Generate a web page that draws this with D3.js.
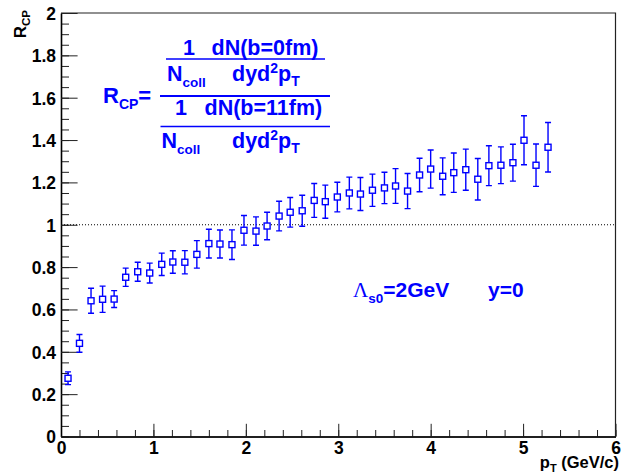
<!DOCTYPE html>
<html>
<head>
<meta charset="utf-8">
<script src="https://cdn.jsdelivr.net/npm/d3@7"></script>
<style>
  body { margin: 0; background: #fff; }
  svg { display: block; font-family: "Liberation Sans", Arial, sans-serif; }
  .tick text { font-weight: bold; font-size: 17.5px; fill: #000; }
</style>
</head>
<body>
<div id="chart"></div>
<script>
// pT bin centres
const pT = [0.076, 0.2, 0.325, 0.45, 0.575, 0.7, 0.83, 0.96, 1.09, 1.21, 1.34, 1.47,
  1.6, 1.72, 1.85, 1.98, 2.11, 2.23, 2.36, 2.48, 2.61, 2.74, 2.86, 2.99, 3.12, 3.24,
  3.37, 3.5, 3.62, 3.75, 3.88, 4.0, 4.13, 4.25, 4.38, 4.51, 4.63, 4.76, 4.89, 5.01,
  5.14, 5.27];
const rcp = [0.275, 0.44, 0.641, 0.648, 0.649, 0.752, 0.778, 0.772, 0.813, 0.824, 0.823, 0.86,
  0.911, 0.909, 0.906, 0.974, 0.97, 0.994, 1.041, 1.059, 1.066, 1.115, 1.109, 1.131, 1.15, 1.145,
  1.163, 1.174, 1.183, 1.159, 1.235, 1.263, 1.229, 1.246, 1.26, 1.215, 1.279, 1.281, 1.293, 1.399,
  1.281, 1.366];
const rcpErr = [0.03, 0.042, 0.059, 0.062, 0.04, 0.043, 0.045, 0.047, 0.053, 0.053, 0.055, 0.065,
  0.068, 0.066, 0.07, 0.07, 0.067, 0.065, 0.07, 0.07, 0.073, 0.08, 0.078, 0.07, 0.075, 0.078,
  0.076, 0.074, 0.082, 0.083, 0.079, 0.09, 0.087, 0.093, 0.097, 0.098, 0.094, 0.087, 0.087, 0.116,
  0.1, 0.117];

const xTicks = [0, 1, 2, 3, 4, 5, 6];
const xTickLabels = ['0', '1', '2', '3', '4', '5', '6'];
const yTicks = [0, 0.2, 0.4, 0.6, 0.8, 1, 1.2, 1.4, 1.6, 1.8, 2];
const yTickLabels = ['0', '0.2', '0.4', '0.6', '0.8', '1', '1.2', '1.4', '1.6', '1.8', '2'];

const width = 621;
const height = 474;
const blue = '#0000ff';

const x = d3.scaleLinear().domain([0, 6]).range([61, 615.5]);
const y = d3.scaleLinear().domain([0, 2]).range([436.5, 13]);

const svg = d3.select('#chart').append('svg').attr('width', width).attr('height', height);

// frame top and right
svg.append('path')
  .attr('d', `M${x(0)},${y(2)}H${x(6)}V${y(0)}`)
  .attr('fill', 'none').attr('stroke', '#222').attr('stroke-width', 1.2);

// minor ticks
svg.append('g').attr('transform', `translate(0,${y(0)})`)
  .call(d3.axisBottom(x).tickValues(d3.range(0, 6.001, 0.2)).tickSizeInner(-6.5).tickSizeOuter(0).tickFormat(''))
  .call((g) => g.selectAll('line').attr('stroke', '#222'));
svg.append('g').attr('transform', `translate(${x(0)},0)`)
  .call(d3.axisLeft(y).tickValues(d3.range(0, 2.001, 0.05)).tickSizeInner(-8).tickSizeOuter(0).tickFormat(''))
  .call((g) => g.selectAll('line').attr('stroke', '#222'));

// major ticks + labels
svg.append('g').attr('transform', `translate(0,${y(0)})`)
  .call(d3.axisBottom(x).tickValues(xTicks).tickSizeInner(-12.7).tickSizeOuter(0)
    .tickPadding(5).tickFormat((d, i) => xTickLabels[i]))
  .call((g) => g.select('.domain').attr('stroke', '#000').attr('stroke-width', 1.6))
  .call((g) => g.selectAll('line').attr('stroke', '#222'))
  .call((g) => g.selectAll('text').attr('font-family', null));
svg.append('g').attr('transform', `translate(${x(0)},0)`)
  .call(d3.axisLeft(y).tickValues(yTicks).tickSizeInner(-16.6).tickSizeOuter(0)
    .tickPadding(5).tickFormat((d, i) => yTickLabels[i]))
  .call((g) => g.select('.domain').attr('stroke', '#000').attr('stroke-width', 1.6))
  .call((g) => g.selectAll('line').attr('stroke', '#222'))
  .call((g) => g.selectAll('text').attr('font-family', null).attr('dy', '0.36em'));

// dotted reference line at 1
svg.append('line')
  .attr('x1', x(0)).attr('x2', x(6)).attr('y1', y(1)).attr('y2', y(1))
  .attr('stroke', '#000').attr('stroke-width', 1).attr('stroke-dasharray', '1,2');

// rich text helper: segments of [text, size, dy, family, weight]
function richText(parent, px, py, segs, opts = {}) {
  const t = parent.append('text').attr('x', px).attr('y', py)
    .attr('fill', opts.fill || blue).attr('font-weight', 'bold')
    .attr('text-anchor', opts.anchor || 'start');
  if (opts.rotate) t.attr('transform', `rotate(${opts.rotate},${px},${py})`);
  segs.forEach(([txt, size, dy, family, weight]) => {
    const s = t.append('tspan').attr('font-size', size).text(txt);
    if (dy) s.attr('dy', dy);
    if (family) s.attr('font-family', family);
    if (weight) s.attr('font-weight', weight);
  });
  return t;
}

// error bars
const pts = pT.map((v, i) => ({ x: v, y: rcp[i], e: rcpErr[i] }));
const bars = svg.append('g').attr('stroke', blue).attr('stroke-width', 1.4).attr('fill', 'none');
pts.forEach((p) => {
  const cx = x(p.x);
  const cy = y(p.y);
  const top = y(p.y + p.e);
  const bot = y(p.y - p.e);
  bars.append('path').attr('d',
    `M${cx},${top}V${cy - 3}M${cx},${cy + 3}V${bot}M${cx - 3},${top}H${cx + 3}M${cx - 3},${bot}H${cx + 3}`);
});
svg.append('g').selectAll('rect').data(pts).join('rect')
  .attr('x', (d) => x(d.x) - 3).attr('y', (d) => y(d.y) - 3)
  .attr('width', 6).attr('height', 6)
  .attr('fill', '#fff').attr('stroke', blue).attr('stroke-width', 1.4);

// axis titles
richText(svg, 619, 468, [['p', 16.5], ['T', 11, 4], [' (GeV/c)', 16.5, -4]], { fill: '#000', anchor: 'end' });
richText(svg, 25.5, 10, [['R', 17], ['CP', 11.5, 4]], { fill: '#000', anchor: 'end', rotate: -90 });

// formula
richText(svg, 103, 103, [['R', 22], ['CP', 14, 6], ['=', 22, -6]]);
svg.append('line').attr('x1', 160).attr('x2', 330).attr('y1', 96).attr('y2', 96)
  .attr('stroke', blue).attr('stroke-width', 2);
richText(svg, 183, 54.5, [['1', 21.5]]);
richText(svg, 211.5, 54.5, [['dN(b=0fm)', 21.5]]);
svg.append('line').attr('x1', 166).attr('x2', 325).attr('y1', 59).attr('y2', 59)
  .attr('stroke', blue).attr('stroke-width', 1.6);
richText(svg, 167, 81, [['N', 21.5], ['coll', 13.5, 6]]);
richText(svg, 232, 81, [['dyd', 21.5], ['2', 14, -8], ['p', 21.5, 8], ['T', 14, 5]]);
richText(svg, 175, 114.5, [['1', 21.5]]);
richText(svg, 204.5, 114.5, [['dN(b=11fm)', 21.5]]);
svg.append('line').attr('x1', 160.5).attr('x2', 330).attr('y1', 126.5).attr('y2', 126.5)
  .attr('stroke', blue).attr('stroke-width', 1.6);
richText(svg, 161.5, 148, [['N', 21.5], ['coll', 13.5, 6]]);
richText(svg, 232, 148, [['dyd', 21.5], ['2', 14, -8], ['p', 21.5, 8], ['T', 14, 5]]);

// annotation
richText(svg, 353, 297, [['Λ', 21, 0, '"Liberation Serif", serif', 'normal'], ['s0', 13.5, 6], ['=2GeV', 21, -6]]);
richText(svg, 488, 297, [['y=0', 21]]);
</script>
</body>
</html>
